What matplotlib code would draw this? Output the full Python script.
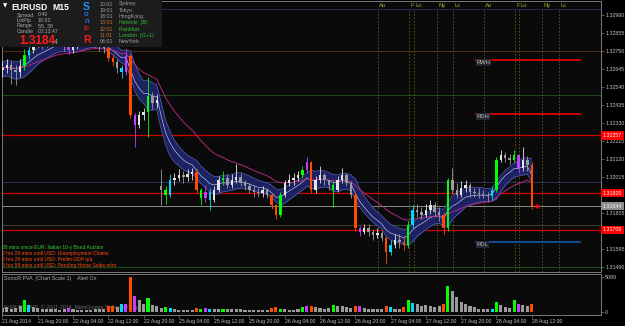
import numpy as np
import pandas as pd
import matplotlib
matplotlib.use("Agg")
import matplotlib.pyplot as plt
from matplotlib.patches import Rectangle
import matplotlib.transforms as mtransforms

W, H = 625, 326

# EURUSD, one candle per hour, bar 0 = 21 Aug 2014 12:00, weekend skipped
closes = [
    1.32651, 1.32668, 1.32639, 1.32627, 1.32662, 1.32726, 1.32755, 1.32790, 1.32802, 1.32785,
    1.32802, 1.32814, 1.32825, 1.32802, 1.32779, 1.32755, 1.32773, 1.32790, 1.32814, 1.32825,
    1.32814, 1.32790, 1.32779, 1.32767, 1.32709, 1.32686, 1.32651, 1.32627, 1.32720, 1.32377,
    1.32318, 1.32377, 1.32394, 1.32487, 1.32447, 1.32464, 1.31939, 1.31910, 1.31998, 1.32009,
    1.32027, 1.32015, 1.32033, 1.32044, 1.31939, 1.31893, 1.31928, 1.31881, 1.31939, 1.31998,
    1.32009, 1.31968, 1.31998, 1.32015, 1.31980, 1.31963, 1.31939, 1.31928, 1.31922, 1.31939,
    1.31910, 1.31852, 1.31794, 1.31910, 1.31980, 1.31998, 1.32009, 1.32027, 1.32056, 1.32103,
    1.31939, 1.31998, 1.32027, 1.31998, 1.31968, 1.31939, 1.31998, 1.32027, 1.31980, 1.31910,
    1.31718, 1.31694, 1.31718, 1.31694, 1.31677, 1.31689, 1.31659, 1.31578, 1.31619, 1.31648,
    1.31636, 1.31619, 1.31735, 1.31823, 1.31811, 1.31794, 1.31823, 1.31852, 1.31811, 1.31794,
    1.31718, 1.31998, 1.31939, 1.31910, 1.31951, 1.31968, 1.31928, 1.31922, 1.31916, 1.31910,
    1.31904, 1.31939, 1.32114, 1.32143, 1.32126, 1.32114, 1.32143, 1.32068, 1.32114, 1.32085,
    1.31844,
]
highs = [
    1.32690, 1.32700, 1.32690, 1.32670, 1.32700, 1.32760, 1.32800, 1.32830, 1.32840, 1.32830,
    1.32840, 1.32850, 1.32860, 1.32840, 1.32810, 1.32790, 1.32800, 1.32820, 1.32850, 1.32860,
    1.32850, 1.32830, 1.32820, 1.32800, 1.32780, 1.32730, 1.32700, 1.32670, 1.32760, 1.32730,
    1.32390, 1.32400, 1.32420, 1.32600, 1.32510, 1.32500, 1.32060, 1.31960, 1.32030, 1.32040,
    1.32060, 1.32050, 1.32060, 1.32070, 1.32060, 1.31950, 1.31970, 1.31950, 1.31960, 1.32020,
    1.32050, 1.32030, 1.32030, 1.32090, 1.32040, 1.32000, 1.31980, 1.31960, 1.31950, 1.31960,
    1.31950, 1.31920, 1.31860, 1.31930, 1.32000, 1.32030, 1.32040, 1.32050, 1.32080, 1.32130,
    1.32110, 1.32020, 1.32080, 1.32040, 1.32000, 1.31990, 1.32020, 1.32070, 1.32040, 1.31990,
    1.31920, 1.31730, 1.31740, 1.31740, 1.31710, 1.31720, 1.31700, 1.31670, 1.31650, 1.31680,
    1.31680, 1.31670, 1.31760, 1.31850, 1.31860, 1.31840, 1.31860, 1.31880, 1.31870, 1.31840,
    1.31810, 1.32010, 1.32070, 1.31980, 1.31990, 1.32000, 1.31980, 1.31950, 1.31950, 1.31940,
    1.31930, 1.31960, 1.32130, 1.32170, 1.32160, 1.32150, 1.32170, 1.32150, 1.32190, 1.32140,
    1.32100,
]
lows = [
    1.32600, 1.32620, 1.32560, 1.32550, 1.32600, 1.32640, 1.32700, 1.32740, 1.32770, 1.32760,
    1.32770, 1.32780, 1.32790, 1.32780, 1.32750, 1.32730, 1.32740, 1.32760, 1.32780, 1.32800,
    1.32790, 1.32770, 1.32750, 1.32740, 1.32690, 1.32660, 1.32620, 1.32590, 1.32610, 1.32360,
    1.32190, 1.32300, 1.32350, 1.32250, 1.32410, 1.32420, 1.31850, 1.31860, 1.31900, 1.31970,
    1.31990, 1.31980, 1.31990, 1.32000, 1.31920, 1.31850, 1.31870, 1.31820, 1.31870, 1.31930,
    1.31970, 1.31950, 1.31950, 1.31980, 1.31960, 1.31940, 1.31920, 1.31900, 1.31900, 1.31900,
    1.31890, 1.31830, 1.31770, 1.31780, 1.31900, 1.31960, 1.31970, 1.31990, 1.32010, 1.32040,
    1.31920, 1.31920, 1.31980, 1.31970, 1.31940, 1.31840, 1.31930, 1.31980, 1.31960, 1.31890,
    1.31700, 1.31670, 1.31680, 1.31670, 1.31650, 1.31660, 1.31640, 1.31510, 1.31560, 1.31600,
    1.31600, 1.31590, 1.31600, 1.31720, 1.31780, 1.31770, 1.31780, 1.31800, 1.31790, 1.31760,
    1.31680, 1.31700, 1.31920, 1.31890, 1.31900, 1.31930, 1.31900, 1.31900, 1.31890, 1.31890,
    1.31870, 1.31880, 1.31930, 1.32100, 1.32100, 1.32090, 1.32100, 1.32040, 1.32050, 1.32050,
    1.31830,
]
first_open = 1.32640
monday_bar = 36
monday_open = 1.31960
volumes = [
    600, 700, 500, 600, 900, 1800, 1000, 700, 600, 500,
    400, 400, 400, 350, 400, 600, 400, 350, 300, 300,
    350, 450, 500, 500, 800, 900, 700, 1100, 1200, 5089,
    2300, 1800, 1200, 2100, 1000, 800, 600, 700, 600, 400,
    300, 300, 350, 350, 600, 500, 550, 500, 450, 400,
    500, 400, 450, 500, 400, 350, 300, 300, 250, 300,
    300, 600, 700, 500, 400, 350, 300, 400, 700, 800,
    900, 700, 600, 500, 600, 1000, 900, 800, 700, 600,
    900, 800, 600, 500, 400, 400, 450, 800, 700, 500,
    450, 700, 1800, 1300, 1100, 900, 1000, 800, 700, 900,
    1200, 3800, 3000, 2200, 1500, 1100, 800, 700, 500, 400,
    400, 500, 1400, 1000, 700, 600, 1800, 1100, 1000, 800,
    1200,
]
# SonicR PVA class per bar: n normal, g bull climax, r bear climax, b bull rising, m bear rising
pva = ("nnnnngbnnn" "nnnnnmnnnn" "nnnnrrnbmr" "mnngnnngbn" "nnnnrgmbnn" "gnnnnnnnnn"
       "nrrgnnnngm" "rnnnngnnnn" "rmnnnnnrbn" "nrgbnnnnnn" "rgnnnnnnnn" "nbgnnngmnn" "r")

tick_hours = list(range(0, 121, 8))
tick_labels = ["21 Aug 2014", "21 Aug 20:00", "22 Aug 04:00", "22 Aug 12:00", "22 Aug 20:00",
               "25 Aug 04:00", "25 Aug 12:00", "25 Aug 20:00", "26 Aug 04:00", "26 Aug 12:00",
               "26 Aug 20:00", "27 Aug 04:00", "27 Aug 12:00", "27 Aug 20:00", "28 Aug 04:00",
               "28 Aug 12:00"]
price_ticks = [1.32960, 1.32855, 1.32750, 1.32645, 1.32540, 1.32435, 1.32330, 1.32225,
               1.32120, 1.32015, 1.31805, 1.31595, 1.31490]

level_prices = [1.32995, 1.32747, 1.32493, 1.31986, 1.31735, 1.31490]
level_colors = ["#262650", "#4a2e14", "#1a461a", "#2c2c55", "#3a3a2c", "#184a18"]
pivot_prices = [1.32257, 1.31920, 1.31706]
range_names = ["RWH", "RDH", "RDL"]
range_prices = [1.32697, 1.32382, 1.31636]
range_colors = ["#ff0000", "#ff0000", "#1060c0"]
range_from, range_to = 107.1, 131.2
session_names = ["Ao", "F", "Lo", "Ny", "Lc", "Ao", "F", "Lo", "Ny", "Lc"]
session_hours = [85.1, 92.2, 93.3, 98.5, 102.2, 109.1, 116.3, 117.1, 122.3, 126.2]

news_lines = ["28 mins since EUR: Italian 10-y Bond Auction",
              "2 hrs 29 mins until USD: Unemployment Claims",
              "2 hrs 29 mins until USD: Prelim GDP q/q",
              "3 hrs 59 mins until USD: Pending Home Sales m/m"]
news_colors = ["#30d030", "#ff4a10", "#ff4a10", "#ff4a10"]
city_times = ["20:01", "19:01", "18:01", "13:01", "12:01", "11:01", "06:01"]
city_names = ["Sydney", "Tokyo", "HongKong", "Helsinki  (B)", "Frankfurt", "London  (G+1)", "NewYork"]
city_open = [False, False, False, True, True, True, False]
info_keys = ["Spread", "LotPip", "Range", "Candle"]
info_vals = ["0.40", "10.00", "55, 38", "00:13:47"]

plt.rcParams["font.family"] = ["Liberation Sans", "DejaVu Sans"]
BG = "#0a0a0a"
FRAME = "#7a7a7a"
TXT = "#c4c4c4"
SMALL = 3.8
pva_colors = {"g": "#00ff00", "r": "#ff4a00", "b": "#00d8ff", "m": "#c040ff"}


def px_rect(x0, y0, x1, y1):
    return [x0 / W, 1 - y1 / H, (x1 - x0) / W, (y1 - y0) / H]


fig = plt.figure(figsize=(W / 100, H / 100), dpi=100)
fig.patch.set_facecolor("black")


def ftext(x, y, s, **kw):
    fig.text(x / W, 1 - y / H, s, va="center", zorder=6, **kw)


c = np.array(closes)
o = np.r_[first_open, c[:-1]]
o[monday_bar] = monday_open
x = np.arange(len(c))

ax = fig.add_axes(px_rect(2, 1, 601, 272))
vax = fig.add_axes(px_rect(2, 274, 601, 315))
for a in (ax, vax):
    a.set_facecolor(BG)
    for sp in a.spines.values():
        sp.set_color(FRAME)
        sp.set_linewidth(0.7)
    a.set_xlim(-0.1, 135.7)

ax.set_ylim(1.31461, 1.33041)

# dragon band (EMA34 of M15 = ~8.5 hourly bars) and EMA89
ema_h = pd.Series(highs).ewm(span=8.5, adjust=False).mean()
ema_l = pd.Series(lows).ewm(span=8.5, adjust=False).mean()
ema_c = pd.Series(c).ewm(span=8.5, adjust=False).mean()
ema_slow = pd.Series(c).ewm(span=22.25, adjust=False).mean()
ax.fill_between(x, ema_l, ema_h, color="#1c2262", lw=0, zorder=2)
ax.plot(x, ema_h, color="#5a62b4", lw=0.5, zorder=2)
ax.plot(x, ema_l, color="#5a62b4", lw=0.5, zorder=2)
ax.plot(x, ema_c, color="#dcdcff", lw=0.4, zorder=2)
ax.plot(x, ema_slow, color="#b0287c", lw=0.7, zorder=3)

# horizontal levels
for p, col in zip(level_prices, level_colors):
    ax.axhline(p, color=col, lw=0.8, zorder=1)
for p in pivot_prices:
    ax.axhline(p, color="#d00000", lw=0.9, zorder=1)
ax.axhline(c[-1], color="#8a8a8a", lw=0.7, zorder=1)

for name, p, col in zip(range_names, range_prices, range_colors):
    ax.hlines(p, range_from, range_to, color=col, lw=1.1, zorder=3)
    ax.text(range_from + 0.4, p, name, color="#b8b8b8", fontsize=4.2, va="top",
            ha="left", zorder=6,
            bbox=dict(boxstyle="square,pad=0.1", fc="#262630", ec="none"))

# session markers
top = mtransforms.blended_transform_factory(ax.transData, ax.transAxes)
for name, h in zip(session_names, session_hours):
    ax.axvline(h, ymin=0, ymax=0.966, color="#5c5c1c", lw=0.6, ls=(0, (2, 2)), zorder=1)
    ax.text(h + 0.3, 0.985, name, transform=top, color="#a8a830", fontsize=4.2,
            va="center", ha="left")

# candles
cols = []
for i, code in enumerate(pva):
    if code == "n":
        cols.append("#e4e4e4" if c[i] >= o[i] else "#9c9c9c")
    else:
        cols.append(pva_colors[code])
ax.vlines(x, lows, highs, colors=cols, lw=0.6, zorder=4)
ax.bar(x, np.maximum(np.abs(c - o), 0.00002), bottom=np.minimum(o, c), width=0.55,
       color=cols, lw=0, zorder=5)
ax.plot(x[-1] + 1.2, c[-1], "o", color="#ff0000", ms=2, zorder=6)

# price scale
ax.yaxis.tick_right()
ax.set_yticks(price_ticks)
ax.set_yticklabels([f"{p:.5f}" for p in price_ticks])
ax.tick_params(axis="y", colors=FRAME, labelcolor=TXT, labelsize=SMALL, length=2, width=0.5, pad=1)
ax.set_xticks([])
right = mtransforms.blended_transform_factory(ax.transAxes, ax.transData)
for p in pivot_prices:
    ax.text(1.003, p, f"{p:.5f}", transform=right, color="white", fontsize=SMALL,
            va="center", ha="left", bbox=dict(boxstyle="square,pad=0.3", fc="#ff0000", ec="none"))
ax.text(1.003, c[-1], f"{c[-1]:.5f}", transform=right, color="#f0f0f0", fontsize=SMALL,
        va="center", ha="left", bbox=dict(boxstyle="square,pad=0.3", fc="#8c8c8c", ec="none"))

# volume pane
vcols = ["#9a9a9a" if code == "n" else pva_colors[code] for code in pva]
vax.bar(x, volumes, width=0.7, color=vcols, lw=0)
vax.set_ylim(-436, 5525)
vax.yaxis.tick_right()
vax.set_yticks([0, max(volumes)])
vax.set_yticklabels(["0", str(max(volumes))])
vax.tick_params(axis="y", colors=FRAME, labelcolor=TXT, labelsize=SMALL, length=2, width=0.5, pad=1)
vax.set_xticks(tick_hours)
vax.set_xticklabels(tick_labels, ha="left")
vax.tick_params(axis="x", colors=FRAME, labelcolor=TXT, labelsize=3.7, length=2, width=0.5, pad=1)
vax.text(0.003, 0.88, "SonicR PVA  (Chart Scale 1)    Alert On", transform=vax.transAxes,
         color="#b0b0b0", fontsize=SMALL, va="center", ha="left")
vax.text(0.003, 0.2, "EURUSD,M15  \u00a9 2001-2014, MetaQuotes Software Corp.",
         transform=vax.transAxes, color="#6a6a6a", fontsize=SMALL, va="center", ha="left", zorder=0)

# info panel
fig.add_artist(Rectangle((0, 1 - 47 / H), 162 / W, 47 / H, transform=fig.transFigure,
                         fc="#1c1c1c", ec="none", zorder=5))
ftext(3, 6, "\u25bc", color="white", fontsize=4, family="DejaVu Sans")
ftext(11, 7, "EURUSD", color="white", fontsize=6.2, weight="bold")
ftext(52, 7, "M15", color="white", fontsize=6.2, weight="bold")
for i, (k, v) in enumerate(zip(info_keys, info_vals)):
    ftext(17, 15 + 5.5 * i, k, color="#a8a8a8", fontsize=SMALL)
    ftext(38, 15 + 5.5 * i, v, color="#a8a8a8", fontsize=SMALL)
ftext(19, 41, "1.3184", color="#ff1a1a", fontsize=8.5, weight="bold")
ftext(54, 42, "4", color="#a8a8a8", fontsize=5)
for ch, yy, col, fs in [("S", 7, "#1e90ff", 7.5), ("o", 15, "#1e70e0", 5.5), ("n", 21.5, "#1e70e0", 5.5),
                        ("ic", 28, "#c02020", 5.5), ("R", 40, "#ff1a1a", 7.5)]:
    ftext(86.5, yy, ch, color=col, fontsize=fs, weight="bold", ha="center")
for i, (t, name, is_open) in enumerate(zip(city_times, city_names, city_open)):
    yy = 4 + 6.3 * i
    ftext(100, yy, t, color="#c87828" if is_open else "#a0a0a0", fontsize=SMALL)
    ftext(119, yy, name, color="#30c030" if is_open else "#a0a0a0", fontsize=SMALL)

# calendar news
for i, (line, col) in enumerate(zip(news_lines, news_colors)):
    ftext(2, 247 + 6 * i, line, color=col, fontsize=3.6)

fig.savefig("out.png", dpi=100, facecolor=fig.get_facecolor())
plt.close(fig)
